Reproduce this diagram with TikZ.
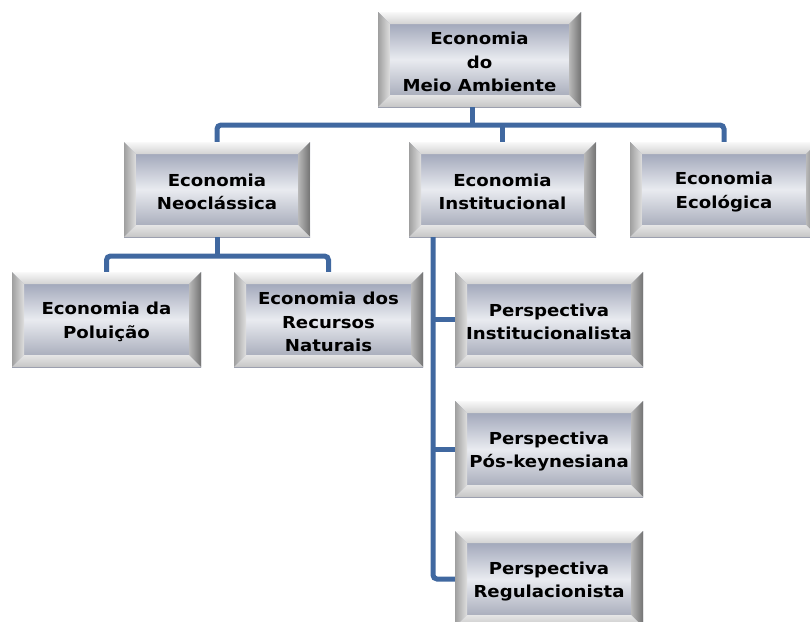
\documentclass[tikz,border=0pt]{standalone}
\usepackage{fontspec}
\setmainfont{DejaVu Sans}[FakeStretch=1.1]
\usetikzlibrary{calc}
\definecolor{conncol}{RGB}{64,104,160}
\definecolor{facetop}{RGB}{140,147,170}
\definecolor{facemid}{RGB}{233,235,240}
\definecolor{facebot}{RGB}{150,155,172}
\tikzset{
  conn/.style={draw=conncol, line width=5pt, rounded corners=4pt},
  boxtext/.style={inner sep=0pt, align=center, font=\fontsize{16.5}{23.5}\selectfont\bfseries, text=black},
}
\newcommand\bevbox[6]{%
  \pgfmathsetmacro\bw{#4-#2}%
  \pgfmathsetmacro\bh{#5-#3}%
  \begin{scope}[shift={(#2,-#3)}]
    \shade[top color=facetop, bottom color=facebot, middle color=facemid] (0,0) rectangle (\bw,-\bh);
    \shade[top color=white!95!gray, bottom color=gray!35] (0,0) -- (\bw,0) -- (\bw-12,-12) -- (12,-12) -- cycle;
    \shade[left color=gray!75, right color=gray!25] (0,0) -- (12,-12) -- (12,-\bh+12) -- (0,-\bh) -- cycle;
    \shade[left color=gray!55, right color=gray!90!black] (\bw,0) -- (\bw-12,-12) -- (\bw-12,-\bh+12) -- (\bw,-\bh) -- cycle;
    \shade[top color=gray!20, bottom color=gray!45] (0,-\bh) -- (12,-\bh+12) -- (\bw-12,-\bh+12) -- (\bw,-\bh) -- cycle;
  \end{scope}
  \node[inner sep=0pt, minimum width=\bw pt, minimum height=\bh pt] (#1) at ({(#2+#4)/2},{-(#3+#5)/2}) {};
  \node[boxtext, yshift=-2.5pt] (#1-t) at (#1) {#6};
}
\begin{document}
\begin{tikzpicture}[x=1pt,y=1pt]
\useasboundingbox (0,0) rectangle (810,-621);
\begin{scope}
\clip (0,0) rectangle (810,-621);
\bevbox{root}{378}{12}{581}{107}{Economia\\do\\Meio Ambiente}
\bevbox{neo}{124}{142}{310}{237}{Economia\\Neoclássica}
\bevbox{inst}{409}{142}{596}{237}{Economia\\Institucional}
\bevbox{eco}{630}{142}{818}{237}{Economia\\Ecológica}
\bevbox{pol}{12}{272}{201}{367}{Economia da\\Poluição}
\bevbox{rec}{234}{272}{423}{367}{Economia dos\\Recursos\\Naturais}
\bevbox{pinst}{455}{272}{643}{367}{Perspectiva\\Institucionalista}
\bevbox{pkey}{455}{401}{643}{497}{Perspectiva\\Pós-keynesiana}
\bevbox{preg}{455}{531}{643}{627}{Perspectiva\\Regulacionista}
\end{scope}
\coordinate (j1) at (472,-125);
\coordinate (j2) at (217,-256);
\coordinate (sp) at (433,-300);
% top level
\draw[conn] (j1 |- root.south) -- (j1);
\draw[conn] (neo.north) |- (j1) -| (eco.north);
\draw[conn] (inst.north) -- (inst.north |- j1);
% neoclassica
\draw[conn] (neo.south) -- (j2);
\draw[conn] (pol.north) |- (j2) -| (rec.north);
% institucional
\draw[conn] (sp |- inst.south) |- (preg.west);
\draw[conn] (sp |- pinst.west) -- (pinst.west);
\draw[conn] (sp |- pkey.west) -- (pkey.west);
\end{tikzpicture}
\end{document}
